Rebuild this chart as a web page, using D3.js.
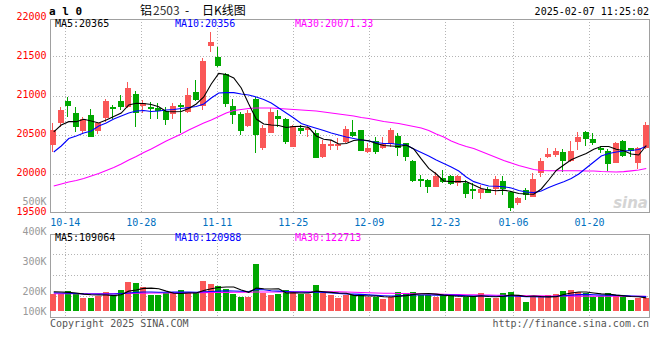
<!DOCTYPE html>
<html>
<head>
<meta charset="utf-8">
<script src="https://cdn.jsdelivr.net/npm/d3@7"></script>
<style>
  body { margin: 0; background: #fff; }
  text { font-family: "DejaVu Sans Mono", monospace; font-size: 10px; }
</style>
</head>
<body>
<svg id="chart" width="660" height="360"></svg>
<script>
// trading days shown (oldest first)
const dates = [
  "10-10","10-11","10-14","10-15","10-16","10-17","10-18","10-21","10-22","10-23","10-24","10-25","10-28","10-29","10-30","10-31",
  "11-01","11-04","11-05","11-06","11-07","11-08","11-11","11-12","11-13","11-14","11-15","11-18","11-19","11-20","11-21","11-22","11-25","11-26","11-27","11-28","11-29",
  "12-02","12-03","12-04","12-05","12-06","12-09","12-10","12-11","12-12","12-13","12-16","12-17","12-18","12-19","12-20","12-23","12-24","12-25","12-26","12-27","12-30","12-31",
  "01-02","01-03","01-06","01-07","01-08","01-09","01-10","01-13","01-14","01-15","01-16","01-17","01-20","01-21","01-22","01-23","01-24","01-27",
  "02-05","02-06","02-07"
];
const tickDates = ["10-14","10-28","11-11","11-25","12-09","12-23","01-06","01-20"];

const open = [20372,20650,20936,20786,20555,20756,20555,20714,20863,20936,
  20863,21026,20872,20863,20842,20812,20769,20884,20799,21055,
  20872,21641,21504,21282,20872,20769,20615,20962,20329,20530,
  20744,20705,20350,20594,20564,20530,20214,20363,20359,20414,
  20542,20564,20278,20423,20329,20380,20487,20394,20167,19932,
  19923,19837,19945,19974,19881,19881,19804,19760,19804,19804,
  19910,19773,19624,19795,19709,20009,20214,20244,20286,20171,
  20414,20542,20444,20337,20295,20145,20423,20329,20137,20329];
const high = [20650,20863,20991,20863,20735,20829,20671,20958,20884,21013,
  21183,21068,20949,20927,20906,20863,20906,20906,21099,21205,
  21483,21824,21630,21290,20958,20799,20821,20991,20628,20842,
  20821,20714,20628,20628,20628,20564,20436,20436,20458,20615,
  20692,20564,20394,20470,20470,20586,20522,20401,20180,19987,
  19932,20030,20051,19987,19987,19923,19881,19859,19830,19974,
  19974,19786,19709,19817,20017,20201,20329,20329,20317,20427,
  20542,20551,20522,20359,20317,20414,20436,20329,20350,20671];
const low = [20286,20599,20735,20542,20530,20470,20513,20671,20705,20820,
  20842,20606,20778,20701,20701,20628,20701,20530,20786,20936,
  20821,21570,21376,20863,20641,20500,20606,20273,20308,20522,
  20599,20385,20342,20513,20470,20209,20201,20308,20308,20401,
  20470,20295,20273,20256,20317,20350,20230,20171,19901,19830,
  19760,19830,19881,19859,19846,19688,19680,19676,19752,19731,
  19731,19526,19603,19667,19701,19965,20201,20222,20030,20158,
  20308,20359,20372,20265,20038,20137,20214,20214,20064,20317];
const close = [20564,20823,20876,20599,20705,20478,20658,20936,20833,20863,
  21106,20778,20906,20837,20812,20692,20872,20855,21013,20949,
  21449,21696,21385,20897,20756,20555,20786,20500,20594,20795,
  20705,20414,20615,20555,20594,20209,20385,20385,20385,20577,
  20491,20295,20337,20286,20385,20564,20337,20214,19914,19914,
  19830,19974,19901,19872,19974,19744,19786,19804,19760,19932,
  19804,19560,19688,19731,19936,20167,20256,20299,20171,20299,
  20478,20444,20401,20308,20128,20401,20231,20299,20329,20628];

// moving averages as drawn on the chart
const ma5 = [20539,20628,20671,20671,20702,20680,20654,20693,20737,20782,
  20885,20907,20904,20891,20863,20802,20799,20802,20840,20898,
  20987,21154,21289,21276,21231,21103,20898,20705,20641,20628,
  20622,20596,20609,20612,20596,20488,20445,20434,20385,20391,
  20430,20439,20427,20391,20366,20359,20353,20372,20321,20193,
  20071,20000,19911,19902,19902,19902,19859,19814,19795,19786,
  19793,19776,19750,19744,19741,19808,19923,20045,20116,20183,
  20225,20263,20317,20353,20353,20317,20298,20257,20244,20365];
const ma10 = [20282,20359,20455,20487,20526,20552,20616,20654,20706,20744,
  20782,20808,20814,20802,20808,20821,20827,20840,20853,20866,
  20898,20975,21039,21043,21043,21026,21013,20988,20955,20911,
  20846,20782,20718,20648,20616,20586,20558,20526,20500,20475,
  20455,20436,20423,20404,20391,20391,20379,20372,20321,20276,
  20231,20180,20135,20090,20039,19962,19902,19872,19846,19843,
  19837,19821,19789,19770,19761,19782,19827,19866,19902,19943,
  20000,20077,20154,20231,20263,20282,20295,20302,20314,20356];
const ma30 = [19846,19872,19897,19917,19942,19974,20006,20045,20083,20128,
  20179,20224,20276,20321,20372,20423,20468,20513,20564,20609,
  20654,20692,20737,20782,20814,20827,20840,20846,20846,20846,
  20840,20833,20827,20821,20814,20808,20795,20782,20769,20756,
  20744,20724,20712,20692,20673,20660,20647,20628,20609,20590,
  20558,20513,20474,20423,20385,20353,20327,20288,20250,20212,
  20173,20141,20109,20083,20058,20045,20042,20042,20042,20041,
  20041,20038,20038,20032,20029,20026,20030,20040,20052,20071];

const volume = [141000,141000,166000,141000,111000,111000,125000,158000,125000,175000,
  244000,235000,197000,133000,133000,152000,147000,175000,147000,147000,
  249000,224000,208000,180000,141000,119000,119000,391000,152000,133000,
  141000,175000,160000,141000,141000,216000,147000,133000,111000,133000,
  133000,141000,119000,119000,97000,119000,160000,147000,160000,133000,
  133000,119000,133000,133000,106000,119000,125000,152000,106000,106000,
  152000,160000,125000,77000,119000,125000,133000,141000,169000,175000,
  160000,147000,114000,125000,152000,125000,114000,91000,106000,106000];
const volMa5 = [160000,158000,155000,150000,140000,135000,133000,133000,128000,135000,
  165000,175000,188000,190000,185000,165000,148000,146000,150000,150000,
  170000,185000,195000,200000,200000,175000,155000,190000,185000,183000,
  185000,150000,152000,150000,150000,165000,160000,155000,150000,147000,
  130000,128000,125000,125000,118000,116000,122000,128000,138000,144000,
  145000,140000,132000,127000,122000,122000,121000,127000,120000,118000,
  123000,133000,130000,120000,125000,120000,117000,119000,137000,150000,
  158000,158000,150000,142000,140000,132000,126000,121000,118000,109064];
const volMa10 = [152000,150000,148000,145000,142000,141000,140000,141000,141000,145000,
  150000,155000,158000,158000,156000,156000,157000,158000,157000,156000,
  160000,162000,165000,167000,166000,164000,162000,178000,176000,168000,
  165000,162000,158000,158000,155000,158000,155000,150000,146000,142000,
  140000,138000,134000,130000,127000,125000,127000,130000,133000,133000,
  133000,132000,132000,132000,130000,127000,125000,125000,124000,122000,
  124000,126000,124000,119000,118000,117000,118000,122000,127000,132000,
  136000,138000,135000,132000,132000,130000,128000,125000,123000,120988];
const volMa30 = [143000,143000,143000,143000,143000,143000,144000,144000,144000,145000,
  146000,147000,148000,149000,150000,150000,151000,151000,152000,152000,
  153000,154000,155000,155000,156000,156000,156000,158000,158000,158000,
  158000,159000,159000,160000,160000,160000,160000,160000,159000,158000,
  156000,154000,152000,150000,148000,147000,146000,145000,144000,143000,
  141000,140000,139000,137000,136000,135000,134000,133000,132000,131000,
  130000,129000,128000,127000,126000,126000,125000,125000,125000,124000,
  124000,124000,124000,123000,123000,123000,123000,123000,123000,122713];

const priceTicks = [22000, 21500, 21000, 20500, 20000, 19500];
const priceGrid = [21500, 21000, 20500, 20000];
const volTicks = [500000, 400000, 300000, 200000, 100000];
const priceLegend = ["MA5:20365", "MA10:20356", "MA30:20071.33"];
const volLegend = ["MA5:109064", "MA10:120988", "MA30:122713"];


/** Sina style daily K chart */
class KChart {
  constructor(svg) {
    this.svg = svg;
    this.colors = {
      up: "#fa5757", down: "#00a800",
      lines: ["#000000", "#0000ff", "#ff00ff"],
      grid: "#b4b4b4", frame: "#a0a0a0"
    };
    // candle slots: 80 slots across the panel
    this.x = d3.scaleBand().domain(d3.range(dates.length)).range([50, 650]);
    // date grid runs on a slightly wider step than the candles
    this.gridX = d3.scaleLinear().domain([0, dates.length]).range([50, 658]);
    this.y = d3.scaleLinear().domain([19500, 22000]).range([213, 18]);
    this.vy = d3.scaleLinear().domain([0, 640000]).range([311, 234]);
    // volume labels are not evenly spaced on the original
    this.volLabelY = d3.scaleLinear().domain([100000, 200000, 500000]).range([314.5, 294.5, 204.5]);
  }

  cx(i) { return this.x(i) + this.x.bandwidth() / 2; }
  left(i) { return Math.floor(this.cx(i) - 3); }
  crisp(v) { return Math.floor(v) + 0.5; }

  drawGrid() {
    const g = this.svg.append("g");
    // horizontal grid in price panel
    g.selectAll(".hg").data(priceGrid).enter().append("line")
      .attr("x1", 50).attr("x2", 650)
      .attr("y1", d => this.crisp(this.y(d))).attr("y2", d => this.crisp(this.y(d)))
      .attr("stroke", this.colors.grid).attr("stroke-dasharray", "1,2");
    // horizontal grid in volume panel (quarters)
    const q = d3.scaleLinear().domain([0, 4]).range([234, 317]);
    g.selectAll(".vg").data([1, 2, 3]).enter().append("line")
      .attr("x1", 50).attr("x2", 650)
      .attr("y1", d => this.crisp(q(d))).attr("y2", d => this.crisp(q(d)))
      .attr("stroke", this.colors.grid).attr("stroke-dasharray", "1,2");
    // vertical date grid, both panels
    const idx = tickDates.map(d => dates.indexOf(d));
    [[19, 213], [234, 317]].forEach(([t, b]) => {
      g.append("g").selectAll("line").data(idx).enter().append("line")
        .attr("x1", i => this.crisp(this.gridX(i))).attr("x2", i => this.crisp(this.gridX(i)))
        .attr("y1", t).attr("y2", b)
        .attr("stroke", this.colors.grid).attr("stroke-dasharray", "1,2");
    });
    g.selectAll(".dl").data(idx).enter().append("text")
      .attr("x", i => this.gridX(i)).attr("y", 225.5)
      .attr("text-anchor", "middle").attr("fill", "#0070c0")
      .text(i => dates[i]);
  }

  drawFrames() {
    const g = this.svg.append("g").attr("fill", "none")
      .attr("stroke", this.colors.frame);
    g.append("rect").attr("x", 50.5).attr("y", 19.5).attr("width", 599).attr("height", 193);
    g.append("rect").attr("x", 50.5).attr("y", 234.5).attr("width", 599).attr("height", 83);
  }

  drawCandles() {
    const g = this.svg.append("g");
    const idx = d3.range(dates.length);
    const col = i => close[i] >= open[i] ? this.colors.up : this.colors.down;
    g.selectAll(".wick").data(idx).enter().append("line")
      .attr("x1", i => this.left(i) + 2.5).attr("x2", i => this.left(i) + 2.5)
      .attr("y1", i => Math.round(this.y(high[i]))).attr("y2", i => Math.round(this.y(low[i])))
      .attr("stroke", col);
    g.selectAll(".body").data(idx).enter().append("rect")
      .attr("x", i => this.left(i)).attr("width", 6)
      .attr("y", i => Math.round(this.y(Math.max(open[i], close[i]))))
      .attr("height", i => Math.max(1, Math.round(this.y(Math.min(open[i], close[i]))) - Math.round(this.y(Math.max(open[i], close[i])))))
      .attr("fill", col);
    // volume bars
    g.selectAll(".vol").data(idx).enter().append("rect")
      .attr("x", i => this.left(i)).attr("width", 6)
      .attr("y", i => Math.round(this.vy(volume[i])))
      .attr("height", i => this.vy(0) - Math.round(this.vy(volume[i])))
      .attr("fill", col);
  }

  drawLines() {
    const price = d3.line().x((d, i) => this.cx(i)).y(d => this.y(d));
    const vol = d3.line().x((d, i) => this.cx(i)).y(d => this.vy(d));
    [ma30, ma10, ma5].forEach((s, k) => {
      this.svg.append("path").attr("d", price(s)).attr("fill", "none")
        .attr("stroke", this.colors.lines[2 - k]).attr("stroke-width", 1.1);
    });
    [volMa30, volMa10, volMa5].forEach((s, k) => {
      this.svg.append("path").attr("d", vol(s)).attr("fill", "none")
        .attr("stroke", this.colors.lines[2 - k]).attr("stroke-width", 1.1);
    });
  }

  drawText() {
    const s = this.svg;
    s.selectAll(".pt").data(priceTicks).enter().append("text")
      .attr("x", 46.5).attr("y", d => this.y(d) + 2)
      .attr("text-anchor", "end").attr("fill", "#f00").text(d => d);
    s.selectAll(".vt").data(volTicks).enter().append("text")
      .attr("x", 46.5).attr("y", d => this.volLabelY(d))
      .attr("text-anchor", "end").attr("fill", "#999").text(d => (d / 1000) + "K");

    s.selectAll(".pl").data(priceLegend).enter().append("text")
      .attr("x", (d, i) => 55 + i * 120).attr("y", 27)
      .attr("fill", (d, i) => this.colors.lines[i]).text(d => d);
    s.selectAll(".vl").data(volLegend).enter().append("text")
      .attr("x", (d, i) => 55 + i * 120).attr("y", 241)
      .attr("fill", (d, i) => this.colors.lines[i]).text(d => d);

    s.append("text").attr("x", 49).attr("y", 15)
      .style("font-size", "11px").style("font-weight", "bold").text("a l 0");
    // title pieces are spaced out like the original
    const title = s.append("text").attr("y", 15)
      .style("font-family", "'Noto Sans CJK SC', sans-serif").style("font-size", "12px");
    title.append("tspan").attr("x", 140).text("铝");
    title.append("tspan").attr("x", 153).attr("fill", "#333").text("2503");
    title.append("tspan").attr("x", 185).text("-");
    title.append("tspan").attr("x", 202).text("日K线图");
    s.append("text").attr("x", 649).attr("y", 15).attr("text-anchor", "end")
      .text("2025-02-07 11:25:02");

    s.append("text").attr("x", 50).attr("y", 327).attr("fill", "#555")
      .text("Copyright 2025 SINA.COM");
    s.append("text").attr("x", 649).attr("y", 327).attr("fill", "#555")
      .attr("text-anchor", "end").text("http://finance.sina.com.cn");

    // watermark
    s.append("text").attr("x", 648).attr("y", 208).attr("text-anchor", "end")
      .style("font-family", "'DejaVu Sans', sans-serif").style("font-size", "15px")
      .style("font-style", "italic").style("font-weight", "bold")
      .attr("fill", "#d4d4d4").text("sina");
  }

  render() {
    this.drawGrid();
    this.drawFrames();
    this.drawCandles();
    this.drawLines();
    this.drawText();
  }
}

const chart = new KChart(d3.select("#chart"));
chart.render();
</script>
</body>
</html>
